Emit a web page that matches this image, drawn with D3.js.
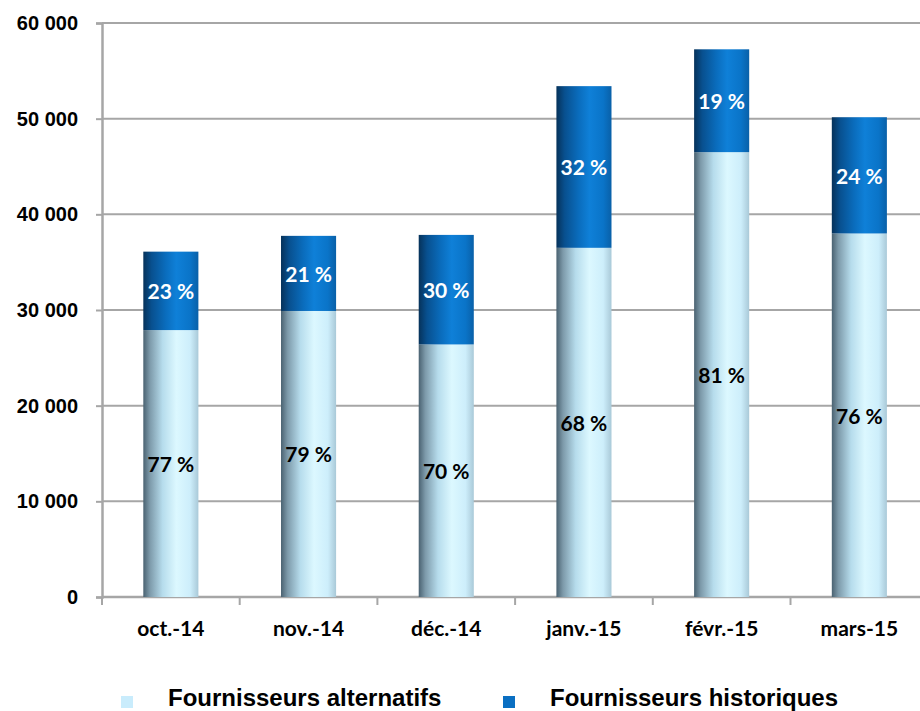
<!DOCTYPE html>
<html lang="fr">
<head>
<meta charset="UTF-8">
<title>Fournisseurs</title>
<style>
  body { margin: 0; background: #fff; }
  svg { display: block; }
  .ytick text { font-family: "Liberation Sans", Arial, sans-serif; font-weight: bold; font-size: 20px; fill: #000; }
  .xtick text { font-family: Lato, "Open Sans", sans-serif; font-weight: bold; font-size: 21px; fill: #000; }
  .pct { font-family: Lato, "Open Sans", sans-serif; font-weight: bold; font-size: 21px; }
  .legend text { font-family: "Liberation Sans", Arial, sans-serif; font-weight: bold; font-size: 24px; fill: #000; }
</style>
</head>
<body>
<svg id="chart" width="920" height="711"></svg>
<script src="https://cdnjs.cloudflare.com/ajax/libs/d3/7.8.5/d3.min.js"></script>
<script>
// data
const months = ["oct.-14", "nov.-14", "déc.-14", "janv.-15", "févr.-15", "mars-15"];
const alternatifs = [27900, 29900, 26400, 36500, 46500, 38000];
const historiques = [8200, 7850, 11450, 16900, 10750, 12150];
const pctAlt = ["77 %", "79 %", "70 %", "68 %", "81 %", "76 %"];
const pctHist = ["23 %", "21 %", "30 %", "32 %", "19 %", "24 %"];
const yTicks = [0, 10000, 20000, 30000, 40000, 50000, 60000];
const seriesNames = ["Fournisseurs alternatifs", "Fournisseurs historiques"];

const svg = d3.select("#chart");
const plotLeft = 102, plotTop = 23, plotBottom = 597;
const bandW = 137.7;

const x = d3.scaleBand().domain(months).range([plotLeft, plotLeft + bandW * months.length]).paddingInner(0.6).paddingOuter(0.3);
const y = d3.scaleLinear().domain([0, 60000]).range([plotBottom, plotTop]);
const fmt = v => d3.format(",")(v).replace(/,/g, " ");

// gradients
const defs = svg.append("defs");
const gLight = defs.append("linearGradient").attr("id", "gLight");
[[0, "#4a6271"], [0.12, "#7d9aaa"], [0.35, "#b6dcec"], [0.6, "#dcf8ff"], [0.85, "#cdeefb"], [1, "#a9c9d8"]]
  .forEach(s => gLight.append("stop").attr("offset", s[0]).attr("stop-color", s[1]));
const gDark = defs.append("linearGradient").attr("id", "gDark");
[[0, "#06325a"], [0.15, "#08508f"], [0.4, "#0a6cbc"], [0.6, "#0f80d8"], [0.85, "#0a74c8"], [1, "#0960a8"]]
  .forEach(s => gDark.append("stop").attr("offset", s[0]).attr("stop-color", s[1]));

// gridlines
svg.append("g").selectAll("line").data(yTicks.slice(1)).join("line")
  .attr("x1", plotLeft).attr("x2", 920)
  .attr("y1", d => y(d)).attr("y2", d => y(d))
  .attr("stroke", "#a6a6a6").attr("stroke-width", 2);

// y axis
const yAxis = svg.append("g").attr("class", "ytick").attr("transform", `translate(${plotLeft},0)`)
  .call(d3.axisLeft(y).tickValues(yTicks).tickFormat(fmt).tickSize(6).tickPadding(18));
yAxis.select(".domain").attr("stroke", "#a6a6a6").attr("stroke-width", 2.5);
yAxis.selectAll(".tick line").attr("stroke", "#a6a6a6").attr("stroke-width", 2);

// x axis
const xAxis = svg.append("g").attr("class", "xtick").attr("transform", `translate(0,${plotBottom})`)
  .call(d3.axisBottom(x).tickSize(0).tickPadding(24));
xAxis.select(".domain").attr("stroke", "#a6a6a6").attr("stroke-width", 2.5).attr("d", `M${plotLeft},0H920`);
xAxis.selectAll(".tick line").remove();
xAxis.append("g").selectAll("line").data(d3.range(months.length + 1)).join("line")
  .attr("x1", i => plotLeft + i * bandW).attr("x2", i => plotLeft + i * bandW)
  .attr("y1", 0).attr("y2", 8)
  .attr("stroke", "#a6a6a6").attr("stroke-width", 2);

// bars
const bars = svg.append("g");
months.forEach((m, i) => {
  const a = alternatifs[i], h = historiques[i];
  bars.append("rect").attr("x", x(m)).attr("width", x.bandwidth())
    .attr("y", y(a)).attr("height", y(0) - y(a)).attr("fill", "url(#gLight)");
  bars.append("rect").attr("x", x(m)).attr("width", x.bandwidth())
    .attr("y", y(a + h)).attr("height", y(a) - y(a + h)).attr("fill", "url(#gDark)");
  bars.append("text").attr("class", "pct").attr("fill", "#000")
    .attr("x", x(m) + x.bandwidth() / 2).attr("y", (y(0) + y(a)) / 2)
    .attr("text-anchor", "middle").attr("dominant-baseline", "central").text(pctAlt[i]);
  bars.append("text").attr("class", "pct").attr("fill", "#fff")
    .attr("x", x(m) + x.bandwidth() / 2).attr("y", (y(a) + y(a + h)) / 2)
    .attr("text-anchor", "middle").attr("dominant-baseline", "central").text(pctHist[i]);
});

// legend
const legend = svg.append("g").attr("class", "legend");
const legColors = ["#c9ecfc", "#0a6fc2"];
const legX = [121, 503];
seriesNames.forEach((n, i) => {
  legend.append("rect").attr("x", legX[i]).attr("y", 696).attr("width", 12).attr("height", 12).attr("fill", legColors[i]);
  legend.append("text").attr("x", legX[i] + 47).attr("y", 706).text(n);
});
</script>
</body>
</html>
